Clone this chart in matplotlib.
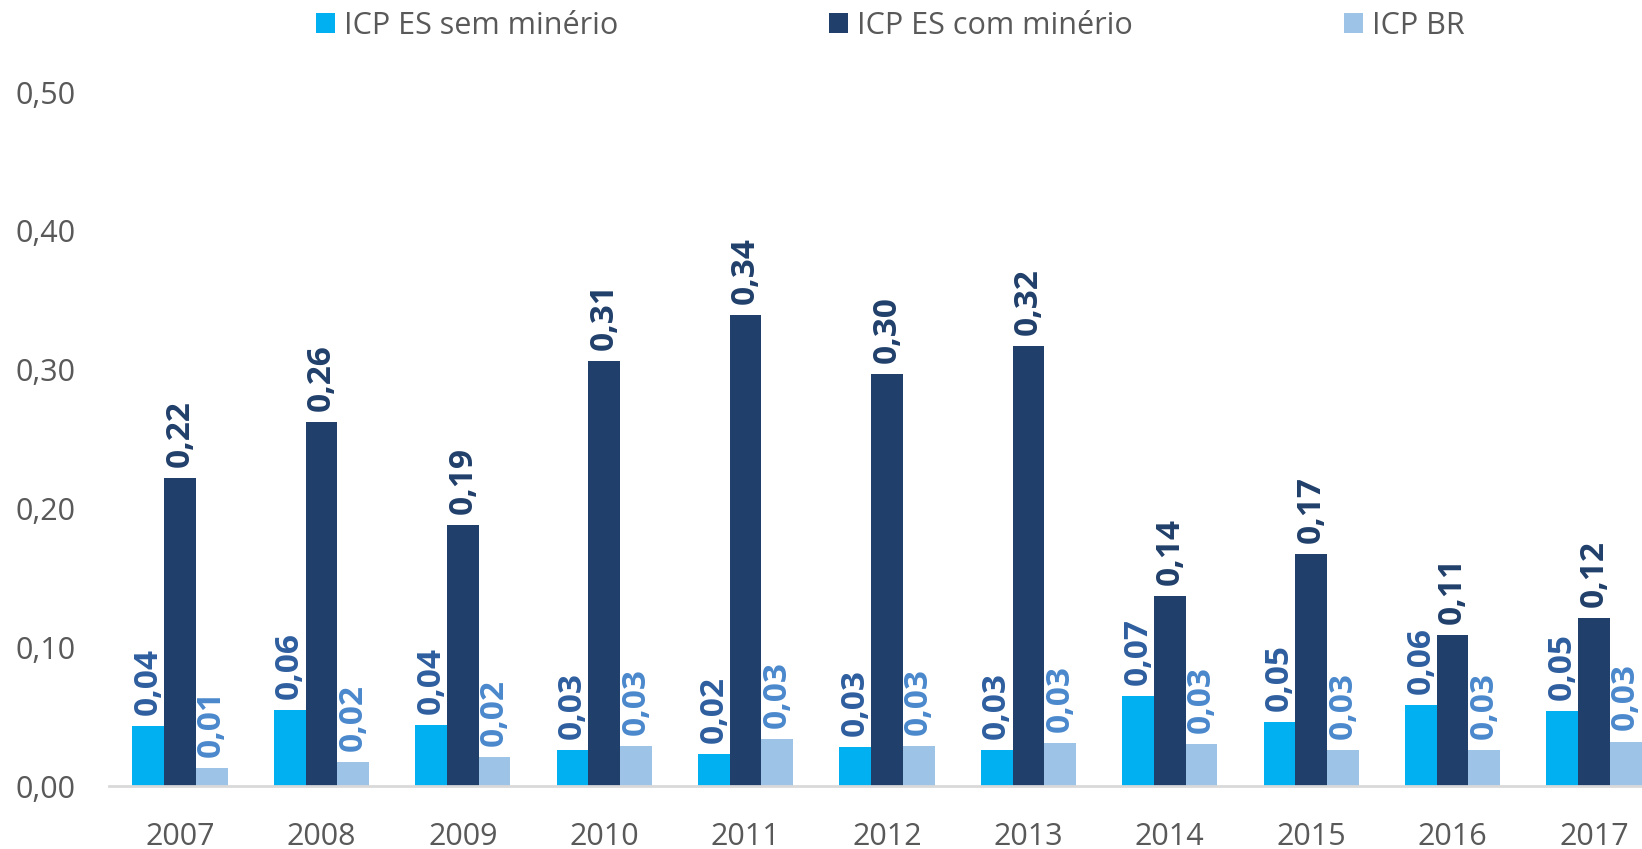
import matplotlib
matplotlib.use("Agg")
import matplotlib.pyplot as plt
import numpy as np
from matplotlib.patches import Patch

years = ["2007", "2008", "2009", "2010", "2011", "2012", "2013", "2014", "2015", "2016", "2017"]
icp_es_sem = [0.043, 0.055, 0.044, 0.026, 0.023, 0.028, 0.026, 0.065, 0.046, 0.058, 0.054]
icp_es_com = [0.222, 0.262, 0.188, 0.306, 0.339, 0.297, 0.317, 0.137, 0.167, 0.109, 0.121]
icp_br = [0.013, 0.017, 0.021, 0.029, 0.034, 0.029, 0.031, 0.030, 0.026, 0.026, 0.032]
series_names = ["ICP ES sem minério", "ICP ES com minério", "ICP BR"]
yticks = [0.0, 0.1, 0.2, 0.3, 0.4, 0.5]

bar_colors = ["#00B0F0", "#203F6A", "#9DC3E6"]
label_colors = ["#2E5E9E", "#203F6A", "#4A88CC"]

plt.rcParams['font.family'] = ['Open Sans', 'DejaVu Sans']

W, H = 1642, 849
fig = plt.figure(figsize=(W / 100, H / 100), dpi=100)
step = 141.4
ax = fig.add_axes([109.3 / W, 1 - 786 / H, 11 * step / W, (786 - 92) / H])

x = np.arange(len(years))
bw = 0.224
data = [icp_es_sem, icp_es_com, icp_br]
for i, (vals, c, lc) in enumerate(zip(data, bar_colors, label_colors)):
    xs = x + (i - 1) * bw
    ax.bar(xs, vals, width=bw, color=c, zorder=2)
    for xi, v in zip(xs, vals):
        ax.annotate(f"{v:.2f}".replace(".", ","), (xi, v), xytext=(0, 8),
                    textcoords="offset points", rotation=90, ha="center", va="bottom",
                    fontsize=24, fontweight="bold", color=lc)

ax.set_xlim(-0.5, len(years) - 0.5)
ax.set_ylim(0, 0.5)
ax.set_xticks(x)
ax.set_xticklabels(years)
ax.set_yticks(yticks)
ax.set_yticklabels([f"{t:.2f}".replace(".", ",") for t in yticks])
ax.tick_params(axis="both", length=0, labelsize=22, colors="#595959")
ax.tick_params(axis="x", pad=26)
ax.tick_params(axis="y", pad=24)
for s in ["top", "right", "left"]:
    ax.spines[s].set_visible(False)
ax.spines["bottom"].set_color("#D9D9D9")
ax.spines["bottom"].set_linewidth(2)

handles = [Patch(facecolor=c, edgecolor="none") for c in bar_colors]
fig.legend(handles, series_names, loc="center", bbox_to_anchor=(890 / W, 1 - 26 / H), ncol=3,
           frameon=False, fontsize=22, labelcolor="#595959", handlelength=0.62, handleheight=0.65,
           handletextpad=0.3, columnspacing=6.9)

fig.savefig("out.png", dpi=100)
